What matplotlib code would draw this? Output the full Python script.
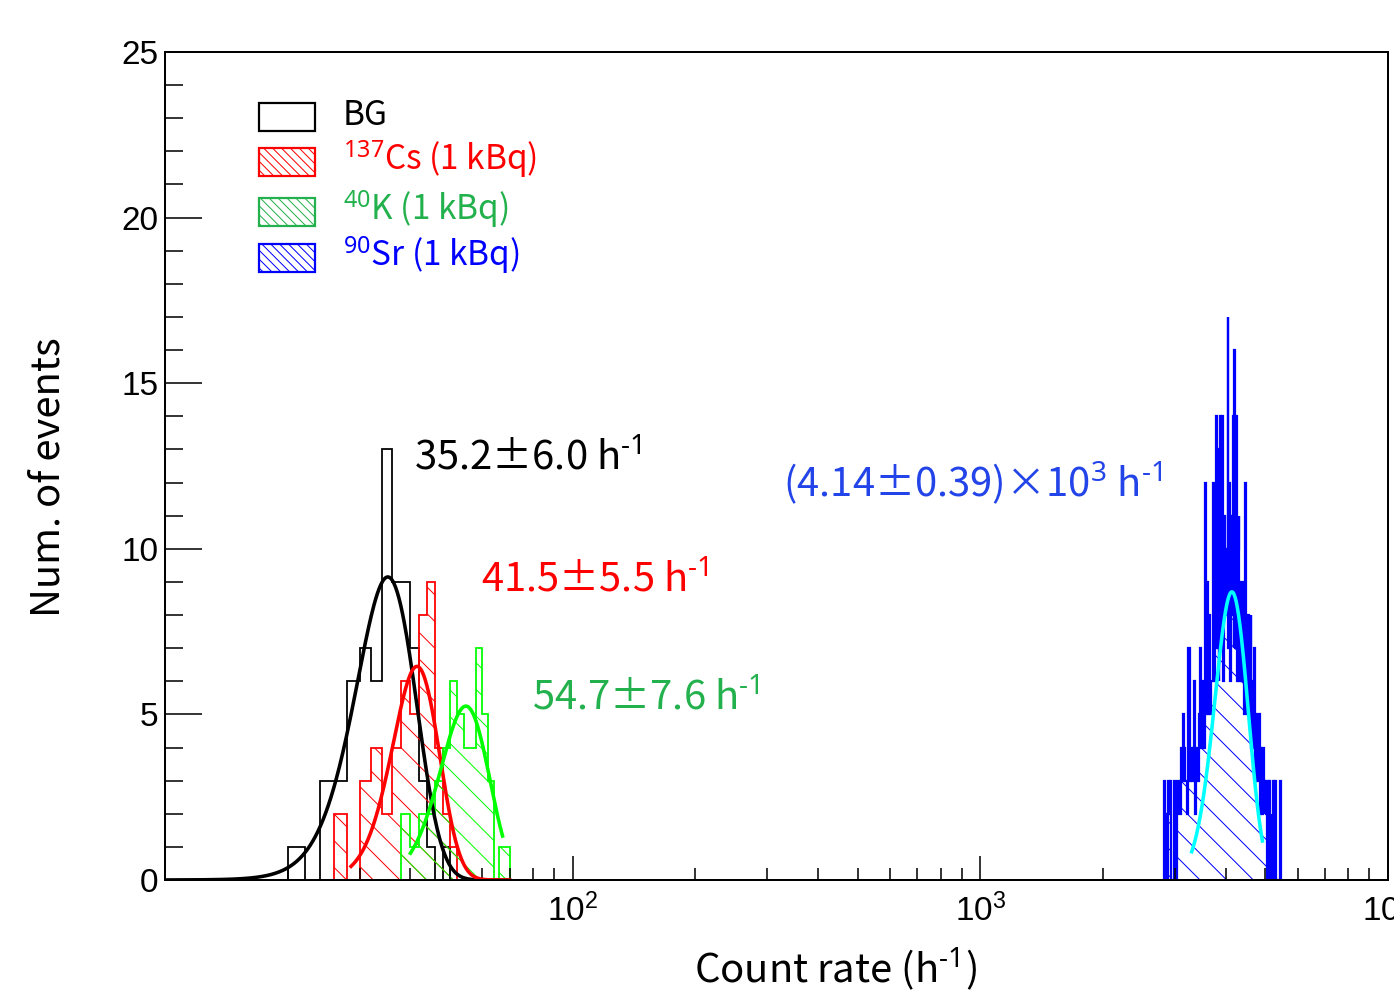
import numpy as np
import matplotlib
matplotlib.use('Agg')
import matplotlib.pyplot as plt
from matplotlib.patches import Rectangle
from matplotlib.ticker import MultipleLocator

plt.rcParams['font.family'] = ['Noto Sans CJK JP', 'DejaVu Sans']
plt.rcParams['mathtext.fontset'] = 'custom'
plt.rcParams['mathtext.rm'] = 'Noto Sans'
plt.rcParams['mathtext.it'] = 'Noto Sans'
plt.rcParams['mathtext.bf'] = 'Noto Sans'
plt.rcParams['hatch.linewidth'] = 0.9

# -- data

# low rate histograms: 2 h^-1 bins from 10 to 100
low_edges = np.arange(10, 101, 2)
bg_counts = [0, 0, 0, 0, 0, 1, 0, 3, 3, 6, 7, 6, 13, 9, 9, 7, 3, 1, 0, 1,
             0, 0, 0, 0, 0, 0, 0, 0, 0, 0, 0, 0, 0, 0, 0, 0, 0, 0, 0, 0,
             0, 0, 0, 0, 0]
cs_counts = [0, 0, 0, 0, 0, 0, 0, 0, 2, 0, 3, 4, 2, 4, 6, 5, 8, 9, 4, 2,
             1, 0, 0, 0, 0, 0, 0, 0, 0, 0, 0, 0, 0, 0, 0, 0, 0, 0, 0, 0,
             0, 0, 0, 0, 0]
k_counts = [0, 0, 0, 0, 0, 0, 0, 0, 0, 0, 0, 0, 0, 0, 2, 1, 2, 2, 3, 4,
            6, 5, 4, 4, 7, 5, 3, 0, 1, 1, 0, 0, 0, 0, 0, 0, 0, 0, 0, 0,
            0, 0, 0, 0, 0]

# 90Sr histogram: 20 h^-1 bins from 2800 to 5500
sr_edges = np.arange(2800, 5501, 20)
sr_counts = [0, 3, 2, 0, 3,   2, 3, 0, 0, 3,   2, 0, 3, 3, 2,
             4, 3, 5, 4, 3,   3, 2, 7, 3, 4,   3, 4, 6, 2, 4,
             4, 3, 5, 7, 4,   5, 6, 4, 12, 5,  9, 5, 8, 5, 6,
             6, 12, 6, 8, 14, 7, 13, 6, 10, 14, 7, 14, 6, 11, 9,
             8, 10, 17, 7, 12, 6, 11, 8, 14, 7, 16, 7, 14, 6, 10,
             11, 6, 9, 6, 8,  6, 9, 5, 12, 6,  7, 5, 8, 5, 6,
             8, 4, 6, 4, 7,   7, 3, 5, 4, 3,   3, 5, 3, 2, 4,
             3, 2, 4, 3, 2,   3, 2, 3, 0, 3,   2, 3, 0, 0, 2,
             0, 3, 0, 0, 3,   3, 0, 0, 0, 0,   0, 0, 3, 0, 0]

# gaussian fits: amplitude, mean, sigma, fit range
fit_amp = [9.15, 6.45, 5.25, 8.7]
fit_mean = [35.2, 41.5, 54.7, 4140]
fit_sigma = [6.0, 5.5, 7.6, 390]
fit_lo = [10, 28.6, 40, 3300]
fit_hi = [70, 70, 67.3, 4920]
fit_colors = ['black', 'red', '#00ff00', '#00ffff']

labels = ['BG', '$^{137}$Cs (1 kBq)', '$^{40}$K (1 kBq)', '$^{90}$Sr (1 kBq)']
label_colors = ['black', '#ff0000', '#22b14c', '#0000ff']

# -- plot

fig = plt.figure(figsize=(1394 / 80, 991 / 80), dpi=80)
ax = fig.add_axes([165 / 1394, 1 - 880 / 991, 1223 / 1394, 828 / 991])

ax.set_xscale('log')

# histograms with hatching
ax.stairs(bg_counts, low_edges, color='black', lw=1.6)
for counts, edges, clr, lw in [(cs_counts, low_edges, '#ff0000', 1.6),
                               (k_counts, low_edges, '#00ff00', 1.6),
                               (sr_counts, sr_edges, '#0000ff', 2.0)]:
    ax.stairs(counts, edges, fill=True, facecolor='none', edgecolor=clr,
              hatch='\\', linewidth=0)
    ax.stairs(counts, edges, color=clr, lw=lw)

# fit curves
for a, m, s, lo, hi, clr in zip(fit_amp, fit_mean, fit_sigma, fit_lo, fit_hi, fit_colors):
    xx = np.geomspace(lo, hi, 400)
    ax.plot(xx, a * np.exp(-0.5 * ((xx - m) / s) ** 2), color=clr, lw=3.2)

# annotations
hm = 'h$^{\u20101}$'
ax.text(40.8, 12.39, '35.2±6.0 ' + hm, color='black', fontsize=36, va='baseline')
ax.text(59.6, 8.70, '41.5±5.5 ' + hm, color='#ff0000', fontsize=36, va='baseline')
ax.text(79.4, 5.14, '54.7±7.6 ' + hm, color='#22b14c', fontsize=36, va='baseline')
ax.text(328, 11.57, '(4.14±0.39)×10$^{3}$ ' + hm, color='#2244e8', fontsize=36,
        va='baseline')

# legend drawn by hand
leg_y = [0.9046, 0.8502, 0.7899, 0.7343]
for i, (lab, clr) in enumerate(zip(labels, label_colors)):
    if i == 0:
        rect = Rectangle((0.077, leg_y[i]), 0.046, 0.034, transform=ax.transAxes,
                         facecolor='white', edgecolor=clr, lw=2)
    else:
        rect = Rectangle((0.077, leg_y[i]), 0.046, 0.034, transform=ax.transAxes,
                         facecolor='white', edgecolor=clr, lw=2, hatch='\\\\\\')
    ax.add_patch(rect)
    ax.text(0.1455, leg_y[i] + 0.007, lab, color=clr, fontsize=30,
            transform=ax.transAxes, va='baseline')

ax.set_xlim(10, 1e4)
ax.set_ylim(0, 25)
ax.set_xticks([1e2, 1e3, 1e4])
ax.set_yticks([0, 5, 10, 15, 20, 25])
ax.yaxis.set_minor_locator(MultipleLocator(1))

ax.tick_params(axis='both', which='both', direction='in', top=False, right=False,
               labelfontfamily='Liberation Sans')
ax.tick_params(axis='y', which='major', length=33, width=1.4, labelsize=30, pad=6)
ax.tick_params(axis='y', which='minor', length=16, width=1.4)
ax.tick_params(axis='x', which='major', length=22, width=1.4, labelsize=30, pad=12)
ax.tick_params(axis='x', which='minor', length=11, width=1.4)

for sp in ax.spines.values():
    sp.set_linewidth(1.8)

ax.set_xlabel('Count rate (' + hm + ')', fontsize=36)
ax.set_ylabel('Num. of events', fontsize=36)
ax.xaxis.set_label_coords(0.548, -0.079)
ax.yaxis.set_label_coords(-0.079, 0.486)

fig.savefig('out.png', dpi=80)
